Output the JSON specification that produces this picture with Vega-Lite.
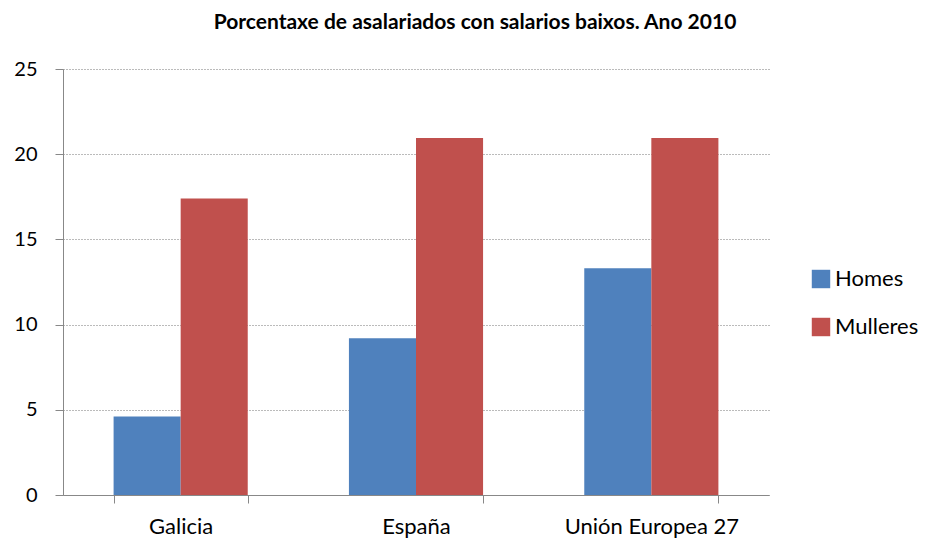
{
  "$schema": "https://vega.github.io/schema/vega-lite/v6.json",
  "width": 706,
  "height": 426,
  "autosize": {"type": "none"},
  "padding": {"left": 63, "top": 69, "right": 162, "bottom": 50},
  "background": "white",
  "title": {
    "text": "Porcentaxe de asalariados con salarios baixos. Ano 2010",
    "font": "Lato",
    "fontSize": 21,
    "fontWeight": "bold",
    "color": "#000000",
    "anchor": "middle",
    "dx": 59,
    "offset": 26
  },
  "data": {
    "values": [
      {"rexion": "Galicia", "sexo": "Homes", "valor": 4.6},
      {"rexion": "Galicia", "sexo": "Mulleres", "valor": 17.4},
      {"rexion": "España", "sexo": "Homes", "valor": 9.2},
      {"rexion": "España", "sexo": "Mulleres", "valor": 20.95},
      {"rexion": "Unión Europea 27", "sexo": "Homes", "valor": 13.3},
      {"rexion": "Unión Europea 27", "sexo": "Mulleres", "valor": 20.95}
    ]
  },
  "mark": {"type": "bar"},
  "encoding": {
    "x": {
      "field": "rexion",
      "type": "nominal",
      "sort": ["Galicia", "España", "Unión Europea 27"],
      "scale": {"paddingInner": 0.43, "paddingOuter": 0.215},
      "axis": {
        "title": null,
        "labelAngle": 0,
        "labelFont": "Lato",
        "labelFontSize": 22,
        "labelColor": "#000000",
        "labelPadding": 13,
        "tickBand": "extent",
        "tickSize": 8,
        "tickColor": "#888888",
        "domainColor": "#888888",
        "grid": false
      }
    },
    "xOffset": {
      "field": "sexo",
      "type": "nominal",
      "scale": {"paddingInner": 0, "paddingOuter": 0}
    },
    "y": {
      "field": "valor",
      "type": "quantitative",
      "scale": {"domain": [0, 25], "nice": false},
      "axis": {
        "title": null,
        "values": [0, 5, 10, 15, 20, 25],
        "labelFont": "Lato",
        "labelFontSize": 20,
        "labelColor": "#000000",
        "labelPadding": 18,
        "tickSize": 8,
        "tickColor": "#888888",
        "domainColor": "#888888",
        "grid": true,
        "gridColor": "#777777",
        "gridDash": [1, 2],
        "gridWidth": 1
      }
    },
    "color": {
      "field": "sexo",
      "type": "nominal",
      "scale": {"domain": ["Homes", "Mulleres"], "range": ["#4F81BD", "#C0504D"]},
      "legend": {
        "title": null,
        "orient": "none",
        "legendX": 747,
        "legendY": 199,
        "symbolType": "square",
        "symbolSize": 340,
        "symbolStrokeWidth": 0,
        "symbolOpacity": 1,
        "labelFont": "Lato",
        "labelFontSize": 22,
        "labelColor": "#000000",
        "labelOffset": 3,
        "rowPadding": 26
      }
    }
  },
  "config": {
    "view": {"stroke": null}
  }
}
